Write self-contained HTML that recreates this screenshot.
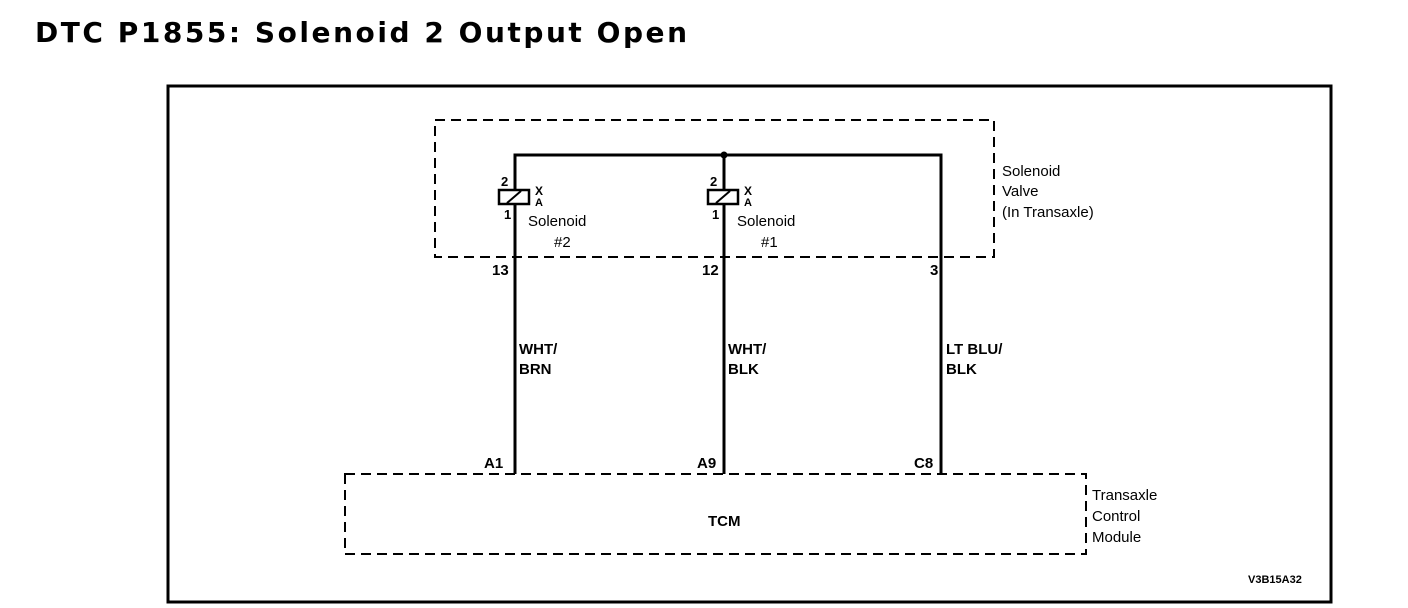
<!DOCTYPE html>
<html><head><style>
body{margin:0;background:#fff;width:1408px;height:608px;overflow:hidden}
svg{display:block}
text{font-family:"Liberation Sans",Arial,sans-serif;fill:#000}
</style></head><body>
<svg width="1408" height="608" viewBox="0 0 1408 608">
<text x="35" y="42" font-size="28" font-weight="bold" font-family="DejaVu Sans" style="font-family:'DejaVu Sans',sans-serif" textLength="652">DTC P1855: Solenoid 2 Output Open</text>
<rect x="168" y="86" width="1163" height="516" fill="none" stroke="#000" stroke-width="3"/>
<rect x="435" y="120" width="559" height="137" fill="none" stroke="#000" stroke-width="2" stroke-dasharray="10,6"/>
<rect x="345" y="474" width="741" height="80" fill="none" stroke="#000" stroke-width="2" stroke-dasharray="10,6"/>
<g stroke="#000" stroke-width="3" fill="none">
<polyline points="515,474 515,155 941,155 941,474"/>
<line x1="724" y1="155" x2="724" y2="474"/>
</g>
<circle cx="724" cy="155" r="3.5"/>
<g stroke="#000" stroke-width="2.5" fill="#fff">
<rect x="499" y="190" width="30" height="14"/>
<rect x="708" y="190" width="30" height="14"/>
</g>
<g stroke="#000" stroke-width="2">
<line x1="507" y1="203" x2="521" y2="191"/>
<line x1="716" y1="203" x2="730" y2="191"/>
</g>
<g font-size="13" font-weight="bold">
<text x="501" y="186">2</text><text x="504" y="219">1</text>
<text x="535" y="195" font-size="12">X</text><text x="535" y="206" font-size="11">A</text>
<text x="710" y="186">2</text><text x="712" y="219">1</text>
<text x="744" y="195" font-size="12">X</text><text x="744" y="206" font-size="11">A</text>
</g>
<g font-size="15">
<text x="528" y="226">Solenoid</text><text x="554" y="247">#2</text>
<text x="737" y="226">Solenoid</text><text x="761" y="247">#1</text>
<text x="1002" y="176">Solenoid</text><text x="1002" y="196">Valve</text><text x="1002" y="217">(In Transaxle)</text>
<text x="1092" y="500">Transaxle</text><text x="1092" y="521">Control</text><text x="1092" y="542">Module</text>
</g>
<g font-size="15" font-weight="bold">
<text x="492" y="275">13</text><text x="702" y="275">12</text><text x="930" y="275">3</text>
<text x="519" y="354">WHT/</text><text x="519" y="374">BRN</text>
<text x="728" y="354">WHT/</text><text x="728" y="374">BLK</text>
<text x="946" y="354">LT BLU/</text><text x="946" y="374">BLK</text>
<text x="484" y="468">A1</text><text x="697" y="468">A9</text><text x="914" y="468">C8</text>
<text x="708" y="526">TCM</text>
<text x="1248" y="583" font-size="11">V3B15A32</text>
</g>
</svg>
</body></html>
